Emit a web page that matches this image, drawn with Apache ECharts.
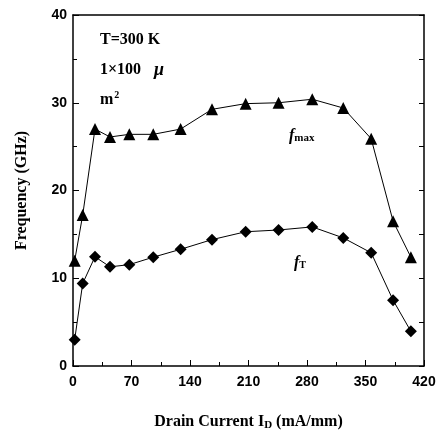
<!DOCTYPE html>
<html>
<head>
<meta charset="utf-8">
<script src="https://cdn.jsdelivr.net/npm/echarts@6/dist/echarts.min.js"></script>
<style>html,body{margin:0;padding:0;background:#fff}#c{width:444px;height:433px}</style>
</head>
<body>
<div id="c"></div>
<script>
const currents = [2, 11.6, 26.3, 44.3, 67.4, 96, 128.8, 166.3, 206.6, 246, 286.3, 323.4, 356.8, 383, 404.3];
const fmax = [12.0, 17.2, 27.0, 26.1, 26.4, 26.4, 27.0, 29.25, 29.9, 30.0, 30.4, 29.4, 25.9, 16.5, 12.4];
const fT = [3.0, 9.4, 12.45, 11.3, 11.55, 12.4, 13.3, 14.4, 15.3, 15.5, 15.85, 14.6, 12.9, 7.5, 3.95];
const xTicks = [0, 70, 140, 210, 280, 350, 420];
const yTicks = [0, 10, 20, 30, 40];

const chart = echarts.init(document.getElementById('c'));
const serif = '"Liberation Serif", "DejaVu Serif", serif';
const sans = '"Liberation Sans", Arial, sans-serif';
chart.setOption({
  animation: false,
  grid: { left: 73, right: 20, top: 15, bottom: 67, containLabel: false, outerBoundsMode: 'none' },
  xAxis: [{
    type: 'value', min: xTicks[0], max: xTicks[xTicks.length - 1], interval: 70,
    axisLine: { lineStyle: { color: '#000', width: 1.5 } },
    axisTick: { inside: true, length: 6, lineStyle: { color: '#000', width: 1 } },
    minorTick: { show: true, splitNumber: 2, length: 4, lineStyle: { color: '#000' } },
    axisLabel: { color: '#000', fontFamily: sans, fontWeight: 'bold', fontSize: 14, margin: 9 },
    splitLine: { show: false },
    name: '{b|Drain Current I}{s|D}{b| (mA/mm)}',
    nameLocation: 'middle', nameGap: 47,
    nameTextStyle: {
      rich: {
        b: { fontFamily: serif, fontWeight: 'bold', fontSize: 16, color: '#000' },
        s: { fontFamily: serif, fontWeight: 'bold', fontSize: 11, color: '#000', verticalAlign: 'bottom', padding: [7, 0, 0, 0] }
      }
    }
  }, {
    type: 'value', position: 'top', min: 0, max: 420,
    axisLine: { show: true, onZero: false, lineStyle: { color: '#000', width: 1.5 } },
    axisTick: { show: false }, axisLabel: { show: false }, splitLine: { show: false }
  }],
  yAxis: [{
    type: 'value', min: yTicks[0], max: yTicks[yTicks.length - 1], interval: 10,
    axisLine: { show: true, lineStyle: { color: '#000', width: 1.5 } },
    axisTick: { show: true, inside: true, length: 6, lineStyle: { color: '#000' } },
    minorTick: { show: true, splitNumber: 2, length: 4, lineStyle: { color: '#000' } },
    axisLabel: { color: '#000', fontFamily: sans, fontWeight: 'bold', fontSize: 14, margin: 6 },
    splitLine: { show: false },
    name: 'Frequency (GHz)', nameLocation: 'middle', nameGap: 43,
    nameTextStyle: { fontFamily: serif, fontWeight: 'bold', fontSize: 16, color: '#000' }
  }, {
    type: 'value', position: 'right', min: 0, max: 40, interval: 5,
    axisLine: { show: true, onZero: false, lineStyle: { color: '#000', width: 1.5 } },
    axisTick: { show: true, inside: true, length: 5, lineStyle: { color: '#000' } },
    axisLabel: { show: false }, splitLine: { show: false }
  }],
  series: [{
    type: 'line', data: currents.map((x, i) => [x, fmax[i]]),
    symbol: 'triangle', symbolSize: 12,
    lineStyle: { color: '#000', width: 1 }, itemStyle: { color: '#000' }
  }, {
    type: 'line', data: currents.map((x, i) => [x, fT[i]]),
    symbol: 'diamond', symbolSize: 12,
    lineStyle: { color: '#000', width: 1 }, itemStyle: { color: '#000' }
  }],
  graphic: [
    { type: 'text', left: 100, top: 32, style: { text: 'T=300 K', font: 'bold 16px ' + serif, fill: '#000' } },
    { type: 'text', left: 100, top: 62, style: { text: '1×100', font: 'bold 16px ' + serif, fill: '#000' } },
    { type: 'text', left: 154, top: 61, style: { text: 'μ', font: 'italic bold 18px ' + serif, fill: '#000' } },
    { type: 'text', left: 100, top: 90, style: { text: '{b|m}{s|2}', rich: {
        b: { font: 'bold 16px ' + serif, fill: '#000' },
        s: { font: 'bold 10px ' + serif, fill: '#000', verticalAlign: 'top', padding: [0, 0, 9, 1] } } } },
    { type: 'text', left: 289, top: 128, style: { text: '{f|f}{s|max}', rich: {
        f: { font: 'italic bold 16px ' + serif, fill: '#000' },
        s: { font: 'bold 11px ' + serif, fill: '#000', padding: [4, 0, 0, 0] } } } },
    { type: 'text', left: 294, top: 255, style: { text: '{f|f}{s|T}', rich: {
        f: { font: 'italic bold 16px ' + serif, fill: '#000' },
        s: { font: 'bold 10px ' + serif, fill: '#000', padding: [5, 0, 0, 0] } } } }
  ]
});
</script>
</body>
</html>
